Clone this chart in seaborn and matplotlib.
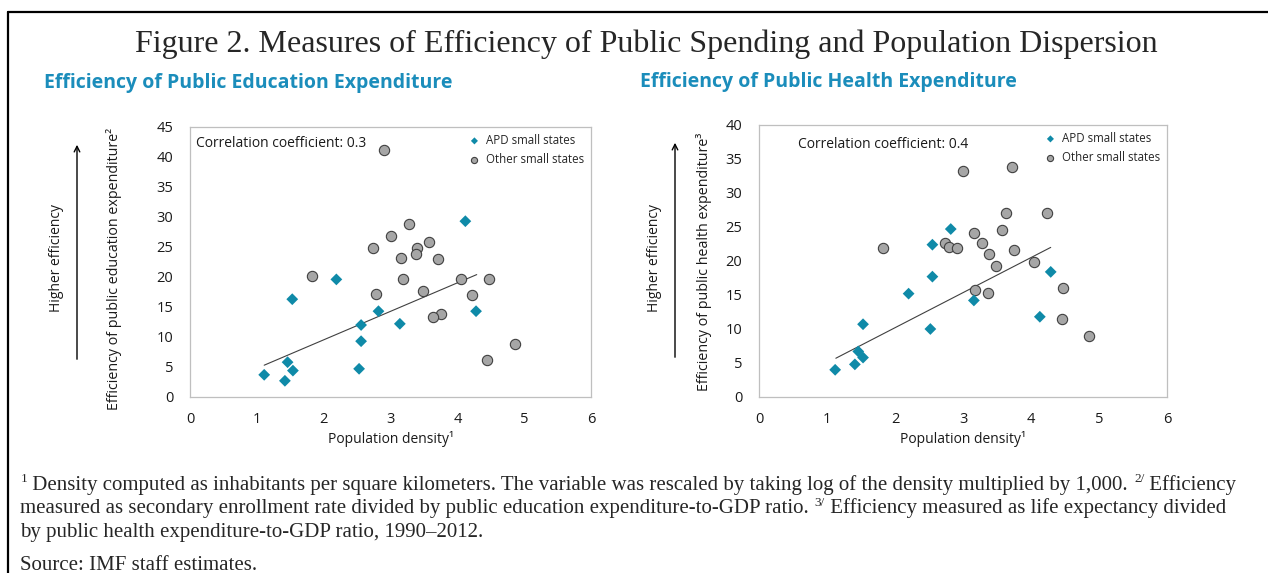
import numpy as np
import pandas as pd
import matplotlib
matplotlib.use('Agg')
import matplotlib.pyplot as plt
import seaborn as sns

# Dados (densidade populacional em log, eficiência)
edu_apd_x = [1.11, 1.42, 1.46, 1.54, 1.53, 2.19, 2.53, 2.56, 2.56, 2.82, 3.14, 4.12, 4.28]
edu_apd_y = [3.7, 2.7, 5.8, 4.4, 16.3, 19.6, 4.7, 9.3, 12.0, 14.3, 12.2, 29.3, 14.3]
edu_other_x = [2.91, 3.27, 3.00, 2.74, 3.39, 3.38, 3.58, 3.15, 3.71, 1.82,
               3.18, 4.05, 4.47, 2.79, 3.48, 4.22, 3.75, 3.64, 4.86, 4.45]
edu_other_y = [41.2, 28.9, 26.8, 24.8, 24.8, 23.9, 25.9, 23.2, 23.0, 20.1,
               19.6, 19.7, 19.6, 17.2, 17.6, 17.0, 13.9, 13.4, 8.9, 6.2]
edu_trend_x = [1.11, 4.29]
edu_trend_y = [5.3, 20.4]

health_apd_x = [1.12, 1.41, 1.46, 1.53, 1.53, 2.20, 2.52, 2.55, 2.55, 2.82, 3.16, 4.13, 4.29]
health_apd_y = [4.0, 4.8, 6.7, 5.8, 10.7, 15.2, 10.0, 17.7, 22.4, 24.7, 14.2, 11.8, 18.4]
health_other_x = [3.00, 3.72, 3.63, 4.23, 3.58, 3.16, 2.74, 2.79, 2.91, 1.82,
                  3.28, 3.75, 3.38, 3.48, 4.04, 3.18, 3.37, 4.47, 4.45, 4.86]
health_other_y = [33.3, 33.8, 27.1, 27.1, 24.5, 24.1, 22.6, 22.1, 21.9, 21.9,
                  22.6, 21.6, 21.1, 19.2, 19.9, 15.7, 15.3, 16.1, 11.5, 8.9]
health_trend_x = [1.13, 4.29]
health_trend_y = [5.7, 22.0]

grupos = ['APD small states', 'Other small states']

AZUL = '#0f8aa8'
CINZA = '#a6a6a6'
TITULO_COR = '#1b8dbb'


def montar_df(apd_x, apd_y, other_x, other_y):
    df = pd.DataFrame({
        'x': list(apd_x) + list(other_x),
        'y': list(apd_y) + list(other_y),
        'grupo': [grupos[0]] * len(apd_x) + [grupos[1]] * len(other_x),
    })
    return df


sns.set_style('white')
plt.rcParams['font.family'] = ['Open Sans', 'DejaVu Sans']

fig = plt.figure(figsize=(12.68, 5.73), dpi=100)
W, H = 1268, 573


def caixa(x0, y0, x1, y1):
    return [x0 / W, 1 - y1 / H, (x1 - x0) / W, (y1 - y0) / H]


ax1 = fig.add_axes(caixa(190, 127, 591, 397))
ax2 = fig.add_axes(caixa(759, 125, 1167, 397))

paineis = [
    (ax1, montar_df(edu_apd_x, edu_apd_y, edu_other_x, edu_other_y),
     edu_trend_x, edu_trend_y, 45,
     'Efficiency of public education expenditure²', (-0.170, 0.474)),
    (ax2, montar_df(health_apd_x, health_apd_y, health_other_x, health_other_y),
     health_trend_x, health_trend_y, 40,
     'Efficiency of public health expenditure³', (-0.115, 0.498)),
]

for ax, df, tx, ty, ymax, ylab, lab_pos in paineis:
    sns.scatterplot(data=df[df.grupo == grupos[1]], x='x', y='y', ax=ax,
                    color=CINZA, marker='o', s=55, edgecolor='#404040',
                    linewidth=0.8, label=grupos[1], zorder=3)
    sns.scatterplot(data=df[df.grupo == grupos[0]], x='x', y='y', ax=ax,
                    color=AZUL, marker='D', s=36, edgecolor='none',
                    label=grupos[0], zorder=4)
    # Linha de tendência
    sns.lineplot(x=tx, y=ty, ax=ax, color='#404040', lw=0.8, zorder=2)

    ax.set_xlim(0, 6)
    ax.set_ylim(0, ymax)
    ax.set_xticks(range(0, 7))
    ax.set_yticks(range(0, ymax + 1, 5))
    ax.tick_params(direction='in', length=4, color='#c8c8c8', labelsize=10.5,
                   labelcolor='#1a1a1a')
    ax.tick_params(axis='y', pad=12)
    ax.tick_params(axis='x', pad=11)
    for sp in ax.spines.values():
        sp.set_visible(True)
        sp.set_color('#bfbfbf')
        sp.set_linewidth(0.9)
    ax.set_xlabel('Population density¹', fontsize=10, color='#1a1a1a', labelpad=3)
    ax.set_ylabel(ylab, fontsize=10.3, color='#1a1a1a')
    ax.yaxis.set_label_coords(*lab_pos)

    h, l = ax.get_legend_handles_labels()
    ordem = [l.index(g) for g in grupos]
    ax.legend([h[i] for i in ordem], [l[i] for i in ordem], loc='upper right',
              frameon=False, fontsize=8.3, markerscale=0.6, handletextpad=0.0,
              labelspacing=0.5, borderaxespad=0.2, bbox_to_anchor=(1.0, 1.0))

ax1.text(0.015, 0.965, 'Correlation coefficient: 0.3', transform=ax1.transAxes,
         fontsize=10, color='#1a1a1a', va='top', ha='left')
ax2.text(0.095, 0.955, 'Correlation coefficient: 0.4', transform=ax2.transAxes,
         fontsize=10, color='#1a1a1a', va='top', ha='left')

# Títulos
fig.text(646 / W, 1 - 44 / H, 'Figure 2. Measures of Efficiency of Public Spending and Population Dispersion',
         family='Liberation Serif', fontsize=23, ha='center', va='center')
fig.text(44 / W, 1 - 83 / H, 'Efficiency of Public Education Expenditure',
         fontsize=14, fontweight='bold', color=TITULO_COR, ha='left', va='center')
fig.text(640 / W, 1 - 82 / H, 'Efficiency of Public Health Expenditure',
         fontsize=14, fontweight='bold', color=TITULO_COR, ha='left', va='center')

# Setas "Higher efficiency"
for xs, xa, y0, y1, yc in [(57, 77, 362, 142, 258), (655, 675, 360, 140, 258)]:
    fig.text(xs / W, 1 - yc / H, 'Higher efficiency', rotation=90, fontsize=10,
             color='#1a1a1a', ha='center', va='center')
    fig.add_artist(matplotlib.patches.FancyArrowPatch(
        (xa / W, 1 - y0 / H), (xa / W, 1 - y1 / H), transform=fig.transFigure,
        arrowstyle='->', mutation_scale=10, color='black', lw=1.0))

# Notas de rodapé: trechos normais e sobrescritos encadeados
TAM_NOTA = 15.0
TAM_SUP = 9.5
notas = [
    [('sup', '1'), ('txt', ' Density computed as inhabitants per square kilometers. The variable was rescaled by taking log of the density multiplied by 1,000. '),
     ('sup', '2/'), ('txt', ' Efficiency')],
    [('txt', 'measured as secondary enrollment rate divided by public education expenditure-to-GDP ratio. '),
     ('sup', '3/'), ('txt', ' Efficiency measured as life expectancy divided')],
    [('txt', 'by public health expenditure-to-GDP ratio, 1990–2012.')],
    [('txt', 'Source: IMF staff estimates.')],
]
bases = [490, 513.5, 537, 570]
descida = 0.216 * TAM_NOTA  # descida da fonte, em pontos

for segs, base in zip(notas, bases):
    # âncora invisível com a linha de base da nota
    ancora = fig.text(20 / W, 1 - base / H, ' ', family='Liberation Serif',
                      fontsize=TAM_NOTA, ha='left', va='baseline')
    anterior = None
    for tipo, s in segs:
        xref = anterior if anterior is not None else ancora
        xy_x = 1 if anterior is not None else 0
        if tipo == 'sup':
            t = ax1.annotate(s, xy=(xy_x, 0), xycoords=(xref, ancora),
                             xytext=(0.5, descida + 5.8), textcoords='offset points',
                             family='Liberation Serif', fontsize=TAM_SUP,
                             ha='left', va='baseline', annotation_clip=False)
        else:
            t = ax1.annotate(s, xy=(xy_x, 0), xycoords=(xref, ancora),
                             xytext=(0, 0), textcoords='offset points',
                             family='Liberation Serif', fontsize=TAM_NOTA,
                             ha='left', va='bottom', annotation_clip=False)
        anterior = t

# Moldura
fig.add_artist(plt.Line2D([8 / W, 1.0], [1 - 12 / H, 1 - 12 / H], transform=fig.transFigure,
                          color='black', lw=1.6))
fig.add_artist(plt.Line2D([8 / W, 8 / W], [0, 1 - 12 / H], transform=fig.transFigure,
                          color='black', lw=1.6))

fig.savefig('out.png', dpi=100)
